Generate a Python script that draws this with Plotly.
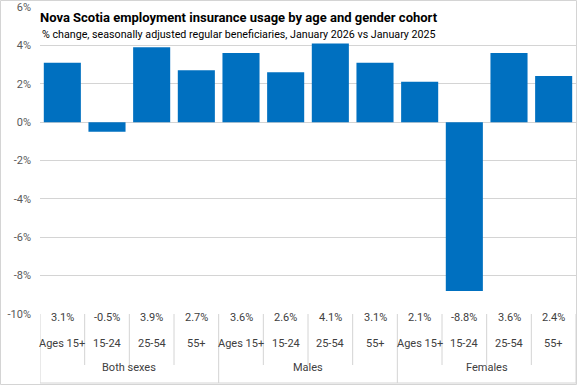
import plotly.graph_objects as go

groups = ["Both sexes", "Males", "Females"]
ages = ["Ages 15+", "15-24", "25-54", "55+"]
values = [3.1, -0.5, 3.9, 2.7, 3.6, 2.6, 4.1, 3.1, 2.1, -8.8, 3.6, 2.4]
y_ticks = [-10, -8, -6, -4, -2, 0, 2, 4, 6]

W, H = 577, 385
ML, MR, MT, MB = 40, 1, 7, 71
PH = H - MT - MB
PW = W - ML - MR

def py(pix):  # pixel row -> paper y
    return (H - MB - pix) / PH

def px(pix):  # pixel column -> paper x
    return (pix - ML) / PW

labels = [a for g in groups for a in ages]
xs = list(range(len(values)))

fig = go.Figure()
fig.add_trace(go.Bar(x=xs, y=values, marker=dict(color="#0070C0", line=dict(width=0)),
                     hoverinfo="skip"))

grid = "#D4D4D4"
txt = "#404040"
font = "Roboto, Liberation Sans, sans-serif"

shapes = []
n = len(values)
for i in range(n + 1):
    xv = i - 0.5
    major = (i % len(ages) == 0)
    shapes.append(dict(type="line", xref="x", yref="paper", x0=xv, x1=xv,
                       y0=0, y1=py(383 if major else 365),
                       line=dict(color=grid, width=1)))
shapes.append(dict(type="line", xref="x", yref="paper", x0=-0.5, x1=n - 0.5,
                   y0=py(383), y1=py(383), line=dict(color=grid, width=1)))
shapes.append(dict(type="rect", xref="paper", yref="paper", x0=px(0.5), x1=px(576.5),
                   y0=py(384.5), y1=py(0.5), line=dict(color=grid, width=1)))

ann = []
for i, v in enumerate(values):
    ann.append(dict(x=i, y=py(326), xref="x", yref="paper", text=f"{v:.1f}%",
                    showarrow=False, font=dict(size=11, color=txt, family=font)))
    ann.append(dict(x=i, y=py(352), xref="x", yref="paper", text=labels[i],
                    showarrow=False, font=dict(size=11, color=txt, family=font)))
for gi, g in enumerate(groups):
    ann.append(dict(x=gi * len(ages) + (len(ages) - 1) / 2, y=py(376), xref="x", yref="paper",
                    text=g, showarrow=False, font=dict(size=11, color=txt, family=font)))

ann.append(dict(x=px(38), y=py(17), xref="paper", yref="paper", xanchor="left", yanchor="middle",
                text="<b>Nova Scotia employment insurance usage by age and gender cohort</b>",
                showarrow=False, font=dict(size=13, color="#000000", family=font)))
ann.append(dict(x=px(40), y=py(34), xref="paper", yref="paper", xanchor="left", yanchor="middle",
                text="% change, seasonally adjusted regular beneficiaries, January 2026 vs January 2025",
                showarrow=False, font=dict(size=10.7, color="#000000", family=font)))

fig.update_layout(
    width=W, height=H,
    margin=dict(l=ML, r=MR, t=MT, b=MB),
    paper_bgcolor="white", plot_bgcolor="white",
    showlegend=False, bargap=0.17,
    xaxis=dict(range=[-0.5, n - 0.5], showticklabels=False, showgrid=False, zeroline=False,
               fixedrange=True),
    yaxis=dict(range=[-10, 6], tickvals=y_ticks, ticktext=[f"{t}%" for t in y_ticks],
               showgrid=True, gridcolor=grid, gridwidth=1, zeroline=True, zerolinecolor=grid,
               zerolinewidth=1, ticks="", ticklabelstandoff=8,
               tickfont=dict(size=11, color="#595959", family=font)),
    shapes=shapes, annotations=ann,
)

fig.write_html("out.html", config={"displayModeBar": False},
               post_script="document.body.style.margin='0';document.body.style.overflow='hidden';")
